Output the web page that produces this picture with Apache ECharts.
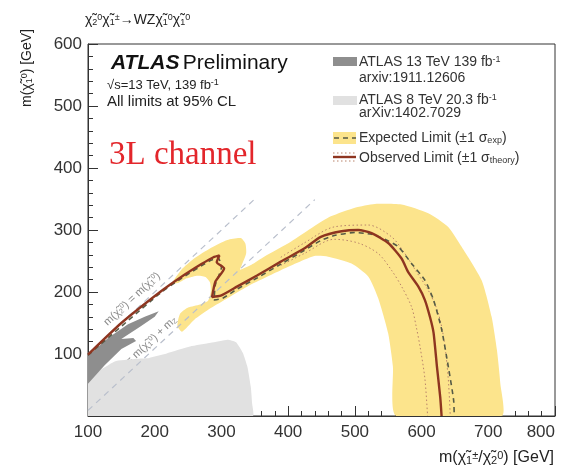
<!DOCTYPE html>
<html>
<head>
<meta charset="utf-8">
<script src="https://cdn.jsdelivr.net/npm/echarts@6/dist/echarts.min.js"></script>
<style>
html, body { margin: 0; padding: 0; background: #fff; }
#chart { width: 561px; height: 471px; }
</style>
</head>
<body>
<div id="chart"></div>
<script>
// values, in GeV: [m(chi1+/chi2), m(chi1_0)]
var observed = [[100,99],[150,150],[208,200],[238,223],[270,245],[288,256],[297,259],[293,248],[304,238],[291,217],[286,192],[299,194],[324,209],[354,227],[389,249],[424,270],[449,289],[480,298],[505,300],[525,295],[550,279],[570,254],[580,232],[595,209],[605,187],[613,158],[618,134],[623,80],[628,30],[630,0]];
var expected = [[100,98],[208,198],[240,222],[282,250],[295,255],[300,240],[291,212],[289,187],[302,190],[324,205],[354,223],[389,245],[424,267],[449,283],[469,291],[500,296],[525,293],[545,285],[565,273],[585,246],[605,219],[618,187],[630,140],[640,80],[648,26],[649,0]];
var theoryUp = [[389,256],[424,279],[469,305],[520,308],[555,289],[575,262],[592,233],[610,203],[625,166],[634,120],[640,60],[643,0]];
var theoryDown = [[389,243],[424,262],[469,285],[505,279],[535,262],[555,235],[570,209],[585,176],[592,144],[598,110],[605,60],[609,0]];
var expBand = [[226,214],[240,236],[259,254],[284,271],[309,284],[329,287],[336,278],[337,262],[330,242],[328,236],[345,244],[364,257],[404,281],[439,306],[464,322],[500,336],[530,342],[570,341],[610,327],[640,305],[660,273],[690,219],[705,160],[713,106],[718,53],[720,0],[562,0],[557,80],[550,133],[535,190],[520,225],[495,246],[460,257],[439,258],[389,235],[339,209],[309,190],[284,174],[259,155],[241,136],[234,145],[238,165],[250,175],[268,180],[280,186],[284,200],[283,215],[276,224],[262,226],[248,222],[236,215]];
var atlas13 = [[100,97],[130,126],[160,148],[185,160],[206,169],[200,160],[178,144],[155,128],[150,124],[168,126],[172,121],[150,108],[125,82],[100,52]];
var atlas8 = [[100,0],[100,58],[140,88],[170,92],[188,93],[218,101],[253,112],[284,118],[309,123],[322,119],[332,102],[339,79],[344,47],[346,20],[347,0]];
var diagSame = [[100,100],[350,350]];
var diagZ = [[100,9],[440,349]];

var YELLOW = '#fce48c';
var FONT = '"Liberation Sans", Arial, sans-serif';

function polygonSeries(name, pts, color, smooth) {
  return {
    type: 'custom', name: name, silent: true, clip: true,
    data: [[pts[0][0], pts[0][1]]],
    renderItem: function (params, api) {
      return {
        type: 'polygon',
        shape: { points: pts.map(function (p) { return api.coord(p); }), smooth: smooth },
        style: { fill: color }
      };
    }
  };
}

function lineSeries(name, pts, color, width, dash, smooth) {
  return {
    type: 'line', name: name, data: pts, showSymbol: false, silent: true,
    smooth: smooth, lineStyle: { color: color, width: width, type: dash }
  };
}

var sup = { fontSize: 9, verticalAlign: 'top', fontFamily: FONT };
var sub = { fontSize: 9, verticalAlign: 'bottom', fontFamily: FONT };
var sup2 = { fontSize: 11, verticalAlign: 'top', fontFamily: FONT };
var sub2 = { fontSize: 11, verticalAlign: 'bottom', fontFamily: FONT };

var myChart = echarts.init(document.getElementById('chart'), null, { renderer: 'canvas' });

var option = {
  animation: false,
  grid: { left: 88, right: 6, top: 44, bottom: 55, show: true, borderColor: '#333', borderWidth: 1, outerBoundsMode: 'none', containLabel: false },
  xAxis: {
    type: 'value', min: 100, max: 800, interval: 100,
    axisLine: { lineStyle: { color: '#333' } },
    axisTick: { inside: true, length: 10, lineStyle: { color: '#333' } },
    minorTick: { show: true, splitNumber: 5, length: 5, lineStyle: { color: '#333' } },
    splitLine: { show: false },
    axisLabel: { fontSize: 17, color: '#333', margin: 8, fontFamily: FONT, alignMaxLabel: 'right' }
  },
  yAxis: {
    type: 'value', min: 0, max: 600, interval: 100,
    axisLine: { show: true, lineStyle: { color: '#333' } },
    axisTick: { show: true, inside: true, length: 10, lineStyle: { color: '#333' } },
    minorTick: { show: true, splitNumber: 5, length: 5, lineStyle: { color: '#333' } },
    splitLine: { show: false },
    axisLabel: {
      fontSize: 17, color: '#333', margin: 6, fontFamily: FONT,
      formatter: function (v) { return v === 0 ? '' : v; }
    }
  },
  series: [
    polygonSeries('ATLAS 8 TeV', atlas8, '#e1e1e1', 0.15),
    polygonSeries('ATLAS 13 TeV', atlas13, '#8e8e8e', 0),
    polygonSeries('Expected band', expBand, YELLOW, 0.2),
    lineSeries('diag1', diagSame, '#b9bfcc', 1.2, [6, 5], false),
    lineSeries('diag2', diagZ, '#b9bfcc', 1.2, [6, 5], false),
    lineSeries('theory up', theoryUp, '#b9836a', 1, [1.5, 2.5], 0.3),
    lineSeries('theory down', theoryDown, '#b9836a', 1, [1.5, 2.5], 0.3),
    lineSeries('Expected', expected, '#555a45', 1.6, [5, 4], 0.2),
    lineSeries('Observed', observed, '#8e3520', 2.4, 'solid', 0.2)
  ],
  graphic: [
    { type: 'text', x: 85, y: 20, style: {
      text: 'χ̃{b|2}{p|0}χ̃{b|1}{p|±}→WZχ̃{b|1}{p|0}χ̃{b|1}{p|0}',
      font: '14px ' + FONT, fill: '#222', textVerticalAlign: 'middle',
      rich: { p: sup, b: sub } } },
    { type: 'text', x: 27, y: 68, rotation: Math.PI / 2, style: {
      text: 'm(χ̃{b|1}{p|0}) [GeV]', font: '14px ' + FONT, fill: '#222',
      textAlign: 'center', textVerticalAlign: 'middle', rich: { p: sup, b: sub } } },
    { type: 'text', x: 554, y: 458, style: {
      text: 'm(χ̃{b|1}{p|±}/χ̃{b|2}{p|0}) [GeV]', font: '16px ' + FONT, fill: '#222',
      textAlign: 'right', textVerticalAlign: 'middle', rich: { p: sup2, b: sub2 } } },
    { type: 'text', x: 111, y: 63, style: {
      text: '{a|ATLAS} {b|Preliminary}', textVerticalAlign: 'middle', fill: '#111',
      rich: { a: { font: 'italic bold 21px ' + FONT }, b: { font: '21px ' + FONT } } } },
    { type: 'text', x: 107, y: 85, style: {
      text: '√s=13 TeV, 139 fb{p|-1}', font: '13px ' + FONT, fill: '#222',
      textVerticalAlign: 'middle', rich: { p: sup } } },
    { type: 'text', x: 107, y: 102, style: {
      text: 'All limits at 95% CL', font: '15px ' + FONT, fill: '#222', textVerticalAlign: 'middle' } },
    { type: 'text', x: 109, y: 155, style: {
      text: '3L channel', font: '33px "Liberation Serif", "Times New Roman", serif', fill: '#e3262b',
      textVerticalAlign: 'middle' } },
    { type: 'text', x: 132, y: 299, rotation: 0.75, style: {
      text: 'm(χ̃{b|2}{p|0}) = m(χ̃{b|1}{p|0})', font: '11px ' + FONT, fill: '#8a8a8a',
      textAlign: 'center', textVerticalAlign: 'middle',
      rich: { p: { fontSize: 7, verticalAlign: 'top' }, b: { fontSize: 7, verticalAlign: 'bottom' } } } },
    { type: 'text', x: 139, y: 352, rotation: 0.75, style: {
      text: 'm(χ̃{b|2}{p|0}) = m(χ̃{b|1}{p|0}) + m{b|Z}', font: '11px ' + FONT, fill: '#8a8a8a',
      textAlign: 'center', textVerticalAlign: 'middle',
      rich: { p: { fontSize: 7, verticalAlign: 'top' }, b: { fontSize: 7, verticalAlign: 'bottom' } } } },
    // legend
    { type: 'rect', shape: { x: 333, y: 57, width: 24, height: 9 }, style: { fill: '#8e8e8e' } },
    { type: 'text', x: 359, y: 62, style: { text: 'ATLAS 13 TeV 139 fb{p|-1}', font: '14px ' + FONT, fill: '#333', textVerticalAlign: 'middle', rich: { p: sup } } },
    { type: 'text', x: 359, y: 78, style: { text: 'arxiv:1911.12606', font: '14px ' + FONT, fill: '#333', textVerticalAlign: 'middle' } },
    { type: 'rect', shape: { x: 333, y: 96, width: 24, height: 9 }, style: { fill: '#e1e1e1' } },
    { type: 'text', x: 359, y: 100, style: { text: 'ATLAS 8 TeV 20.3 fb{p|-1}', font: '14px ' + FONT, fill: '#333', textVerticalAlign: 'middle', rich: { p: sup } } },
    { type: 'text', x: 359, y: 113, style: { text: 'arXiv:1402.7029', font: '14px ' + FONT, fill: '#333', textVerticalAlign: 'middle' } },
    { type: 'rect', shape: { x: 333, y: 132, width: 23, height: 12 }, style: { fill: YELLOW } },
    { type: 'line', shape: { x1: 334, y1: 138, x2: 356, y2: 138 }, style: { stroke: '#555a45', lineWidth: 1.6, lineDash: [5, 4] } },
    { type: 'text', x: 359, y: 138, style: { text: 'Expected Limit (±1 σ{b|exp})', font: '14px ' + FONT, fill: '#333', textVerticalAlign: 'middle', rich: { b: sub } } },
    { type: 'line', shape: { x1: 333, y1: 153, x2: 356, y2: 153 }, style: { stroke: '#b9836a', lineWidth: 1, lineDash: [1.5, 2.5] } },
    { type: 'line', shape: { x1: 333, y1: 157, x2: 356, y2: 157 }, style: { stroke: '#8e3520', lineWidth: 2.4 } },
    { type: 'line', shape: { x1: 333, y1: 161, x2: 356, y2: 161 }, style: { stroke: '#b9836a', lineWidth: 1, lineDash: [1.5, 2.5] } },
    { type: 'text', x: 359, y: 158, style: { text: 'Observed Limit (±1 σ{b|theory})', font: '14px ' + FONT, fill: '#333', textVerticalAlign: 'middle', rich: { b: sub } } }
  ]
};

if (option && typeof option === 'object') {
  myChart.setOption(option);
}
</script>
</body>
</html>
